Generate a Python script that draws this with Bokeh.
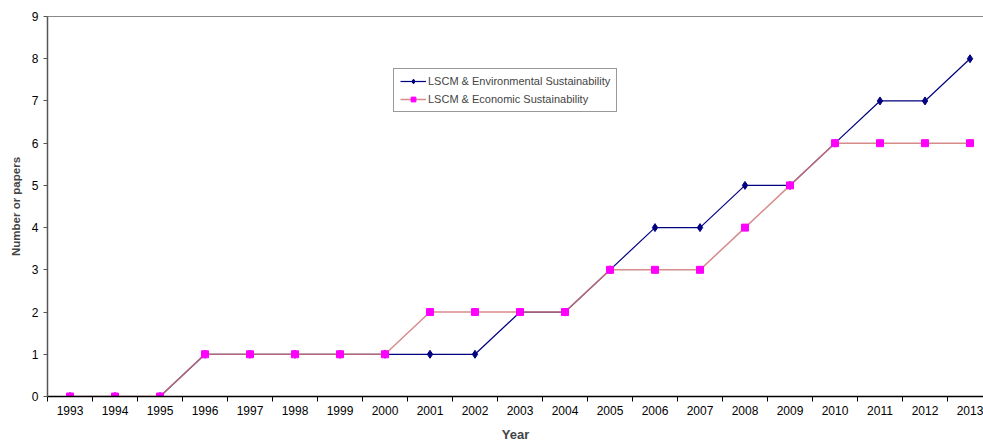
from bokeh.plotting import figure
from bokeh.models import FixedTicker, Range1d, Legend, LegendItem, LinearAxis
from bokeh.embed import file_html
from bokeh.resources import INLINE

years = list(range(1993, 2014))
env = [0, 0, 0, 1, 1, 1, 1, 1, 1, 1, 2, 2, 3, 4, 4, 5, 5, 6, 7, 7, 8]
econ = [0, 0, 0, 1, 1, 1, 1, 1, 2, 2, 2, 2, 3, 3, 3, 4, 5, 6, 6, 6, 6]
y_ticks = list(range(0, 10))

FONT = "Liberation Sans"

p = figure(width=983, height=444, output_backend="svg", toolbar_location=None,
           x_range=Range1d(1992.5, 2013.3), y_range=Range1d(0, 9),
           min_border_top=16, min_border_right=0, min_border_left=47, min_border_bottom=48)

p.outline_line_color = None
p.xgrid.visible = False
p.ygrid.visible = False

xa = p.below[0]

# top border line
top_axis = LinearAxis(ticker=FixedTicker(ticks=[]),
                      major_tick_out=0, major_tick_in=0, minor_tick_out=0, minor_tick_in=0,
                      axis_line_color="#888888", axis_line_width=1)
p.add_layout(top_axis, "above")

# x axis: labels at category centers, marks between categories
xa.ticker = FixedTicker(ticks=years, minor_ticks=[y + 0.5 for y in range(1992, 2014)])
xa.major_label_overrides = {y: str(y) for y in years}
xa.major_tick_out = 0
xa.major_tick_in = 0
xa.minor_tick_out = 5
xa.minor_tick_in = 0
xa.minor_tick_line_color = "#000000"
xa.axis_line_color = "#000000"
xa.axis_line_width = 1.5
xa.major_label_text_font = FONT
xa.major_label_text_font_size = "12px"
xa.major_label_text_color = "#000000"
xa.major_label_standoff = 4
xa.axis_label = "Year"
xa.axis_label_text_font = FONT
xa.axis_label_text_font_style = "bold"
xa.axis_label_text_font_size = "13px"
xa.axis_label_standoff = 9

p.yaxis.ticker = FixedTicker(ticks=y_ticks)
p.yaxis.major_tick_out = 4
p.yaxis.major_tick_in = 0
p.yaxis.minor_tick_out = 0
p.yaxis.minor_tick_in = 0
p.yaxis.axis_line_color = "#555555"
p.yaxis.axis_line_width = 1.5
p.yaxis.major_tick_line_color = "#555555"
p.yaxis.major_label_text_font = FONT
p.yaxis.major_label_text_font_size = "12px"
p.yaxis.major_label_text_color = "#000000"
p.yaxis.major_label_standoff = 5
p.yaxis.axis_label = "Number or papers"
p.yaxis.axis_label_text_font = FONT
p.yaxis.axis_label_text_font_style = "bold"
p.yaxis.axis_label_text_font_size = "11.5px"
p.yaxis.axis_label_standoff = 7

env_line = p.line(years, env, line_color="#000080", line_width=1.2)
econ_line = p.line(years, econ, line_color="#D07878", line_width=1.5, line_alpha=0.85)
env_pts = p.scatter(years, env, marker="diamond", size=8, fill_color="#000080",
                    line_color="#000080")
econ_pts = p.scatter(years, econ, marker="square", size=7, fill_color="#FF00FF",
                     line_color="#FF00FF")

legend = Legend(items=[
    LegendItem(label="LSCM & Environmental Sustainability", renderers=[env_line, env_pts]),
    LegendItem(label="LSCM & Economic Sustainability", renderers=[econ_line, econ_pts]),
], location=(346, 284))
legend.label_text_font = FONT
legend.label_text_font_size = "11px"
legend.label_height = 12
legend.glyph_height = 12
legend.glyph_width = 26
legend.label_standoff = 2
legend.spacing = 6
legend.padding = 6
legend.margin = 0
legend.border_line_color = "#333333"
legend.border_line_width = 1
legend.background_fill_alpha = 1.0
p.add_layout(legend, "center")

open("out.html", "w").write(file_html(p, INLINE))
